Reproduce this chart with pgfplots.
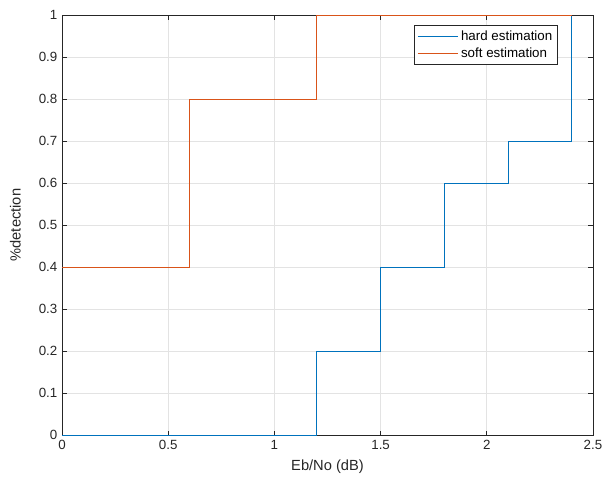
\documentclass[border=0pt]{standalone}
\usepackage{fontspec}
\setmainfont{Liberation Sans}
\usepackage{pgfplots}
\pgfplotsset{compat=1.18}
\definecolor{mblue}{RGB}{0,114,189}
\definecolor{morange}{RGB}{217,83,25}
\definecolor{axgray}{RGB}{38,38,38}
\begin{document}
\begin{tikzpicture}
\begin{axis}[
  scale only axis,
  width=398pt, height=315pt,
  xmin=0, xmax=2.5, ymin=0, ymax=1,
  xtick={0,0.5,...,2.5},
  ytick={0,0.1,...,1},
  yticklabels={0,0.1,0.2,0.3,0.4,0.5,0.6,0.7,0.8,0.9,1},
  xticklabels={0,0.5,1,1.5,2,2.5},
  tick align=inside,
  major tick length=3.5pt,
  tick style={axgray, line width=0.5pt},
  axis line style={axgray, line width=0.6pt},
  grid=major,
  grid style={gray!22, line width=0.5pt},
  ticklabel style={font=\fontsize{10}{12}\selectfont, text=axgray},
  /pgf/number format/assume math mode=true,
  xlabel={Eb/No (dB)},
  ylabel={\%detection},
  label style={font=\fontsize{11}{13}\selectfont, text=axgray},
  xlabel style={at={(axis description cs:0.5,-0.074)}, anchor=center},
  ylabel style={at={(axis description cs:-0.088,0.5)}, anchor=center},
  legend style={at={(0.934,0.976)}, anchor=north east,
    font=\fontsize{10}{12}\selectfont, draw=axgray, line width=0.5pt,
    inner sep=2pt, row sep=0pt},
  legend cell align=left,
  legend image code/.code={\draw[#1, line width=0.8pt] (0pt,0pt) -- (30pt,0pt);},
]
\addplot[const plot, color=mblue, line width=0.8pt] coordinates {
  (0,0) (0.3,0) (0.6,0) (0.9,0) (1.2,0.2) (1.5,0.4) (1.8,0.6) (2.1,0.7) (2.4,1)
};
\addlegendentry{hard estimation}
\addplot[const plot, color=morange, line width=0.8pt] coordinates {
  (0,0.4) (0.3,0.4) (0.6,0.8) (0.9,0.8) (1.2,1) (1.5,1) (1.8,1) (2.1,1) (2.4,1)
};
\addlegendentry{soft estimation}
\end{axis}
\pgfresetboundingbox
\path[use as bounding box] (-46.5pt,-39pt) rectangle (407pt,326.25pt);
\end{tikzpicture}
\end{document}
